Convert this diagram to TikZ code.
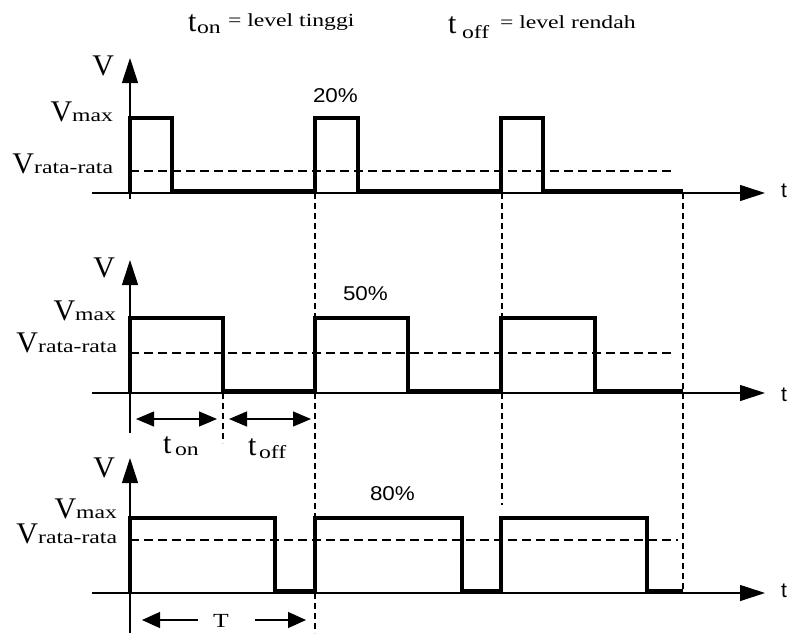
\documentclass[tikz,border=0pt]{standalone}
\usepackage{graphicx}
\usepackage{fontspec}
\setmainfont{Liberation Serif}
\newfontfamily\pctfont{Liberation Sans}
\usetikzlibrary{arrows.meta}
\newcommand{\bigf}{\fontsize{30}{30}\selectfont}
\newcommand{\smtxt}[1]{\scalebox{1.28}[1]{\fontsize{18.5}{18.5}\selectfont #1}}
\tikzset{
  lbl/.style={inner sep=0pt, outer sep=0pt},
  pulse/.style={line width=4.5pt, line join=miter},
  axisline/.style={line width=1.1pt, -{Triangle[length=25pt,width=16pt]}},
  avgline/.style={line width=1.1pt, dash pattern=on 9pt off 5pt},
  guide/.style={line width=1.1pt, dash pattern=on 6pt off 4pt},
  spanarrow/.style={line width=1.1pt, {Triangle[length=18pt,width=15pt]}-{Triangle[length=18pt,width=15pt]}},
  onearrow/.style={line width=1.1pt, -{Triangle[length=18pt,width=16pt]}},
  pct/.style={lbl, anchor=base west, font=\pctfont\fontsize{20}{20}\selectfont, xscale=1.12},
}
\begin{document}
\begin{tikzpicture}[x=1pt,y=-1pt]
\useasboundingbox (0,0) rectangle (791,637);
% panels: base, vmax, vavg, off1, off2, off3, vtop, vbot, avgend, id
\foreach \b/\m/\a/\oa/\ob/\oc/\vt/\vb/\ae/\n in {
  193/118/171/172/358/543/58/199/673/1,
  393/318/353/223/408/595/260/433/673/2,
  593/518/540/275/462/647/458/633/678/3}{
  \pgfmathsetmacro{\lo}{\b-2}
  \coordinate (ybot\n) at (130,\vb);
  \coordinate (ytop\n) at (130,\vt);
  \coordinate (xl\n) at (92,\b);
  \coordinate (xr\n) at (765,\b);
  \coordinate (al\n) at (130,\a);
  \coordinate (ar\n) at (\ae,\a);
  \draw[axisline] (ybot\n) -- (ytop\n);
  \draw[axisline] (xl\n) -- (xr\n);
  \draw[avgline] (al\n) -- (ar\n);
  \draw[pulse] (130,\b) -- (130,\m) -- (\oa,\m) -- (\oa,\lo) -- (315,\lo)
     -- (315,\m) -- (\ob,\m) -- (\ob,\lo) -- (501,\lo)
     -- (501,\m) -- (\oc,\m) -- (\oc,\lo) -- (683,\lo);
}
% vertical guides
\coordinate (g1a) at (315,193); \coordinate (g1b) at (315,633);
\coordinate (g2a) at (502,193); \coordinate (g2b) at (502,505);
\coordinate (g3a) at (683,193); \coordinate (g3b) at (683,593);
\coordinate (g4a) at (223,393); \coordinate (g4b) at (223,443);
\draw[guide] (g1a) -- (g1b);
\draw[guide] (g2a) -- (g2b);
\draw[guide] (g3a) -- (g3b);
\draw[guide] (g4a) -- (g4b);
% span arrows
\coordinate (on1) at (136,419); \coordinate (on2) at (217,419);
\coordinate (of1) at (229,419); \coordinate (of2) at (311,419);
\draw[spanarrow] (on1) -- (on2);
\draw[spanarrow] (of1) -- (of2);
\node[lbl, anchor=base, font=\fontsize{20}{20}\selectfont, xscale=1.28] (T) at (221,627) {T};
\coordinate (Tl) at (198,620); \coordinate (Tlt) at (142,620);
\coordinate (Tr) at (255,620); \coordinate (Trt) at (306,620);
\draw[onearrow] (Tl) -- (Tlt);
\draw[onearrow] (Tr) -- (Trt);
% axis labels
\node[lbl, anchor=base east, font=\bigf] (V1) at (114,75) {V};
\node[lbl, anchor=base east, font=\bigf] (V2) at (115,277) {V};
\node[lbl, anchor=base east, font=\bigf] (V3) at (115,477) {V};
\node[lbl, anchor=base east] (max1) at (113,121) {\bigf V\smtxt{max}};
\node[lbl, anchor=base east] (avg1) at (113,173) {\bigf V\smtxt{rata-rata}};
\node[lbl, anchor=base east] (max2) at (116,320) {\bigf V\smtxt{max}};
\node[lbl, anchor=base east] (avg2) at (117,352) {\bigf V\smtxt{rata-rata}};
\node[lbl, anchor=base east] (max3) at (117,518) {\bigf V\smtxt{max}};
\node[lbl, anchor=base east] (avg3) at (117,543) {\bigf V\smtxt{rata-rata}};
\foreach \y/\n in {197/1, 401/2, 597/3}
  \node[lbl, anchor=base west, font=\pctfont\fontsize{21}{21}\selectfont] (t\n) at (781,\y) {t};
% percentages
\node[pct] (p20) at (313,102) {20\%};
\node[pct] (p50) at (343,300) {50\%};
\node[pct] (p80) at (370,500) {80\%};
% t_on / t_off below panel 2
\node[lbl, anchor=base west, font=\bigf] (ton) at (163,453) {t};
\node[lbl, anchor=base west] (tonsub) at (175,455) {\smtxt{on}};
\node[lbl, anchor=base west, font=\bigf] (toff) at (248,455) {t};
\node[lbl, anchor=base west] (toffsub) at (259,458) {\smtxt{off}};
% titles
\node[lbl, anchor=base west, font=\bigf] (h1t) at (188,31) {t};
\node[lbl, anchor=base west] (h1s) at (197,33) {\smtxt{on}};
\node[lbl, anchor=base west] (h1r) at (228,26) {\smtxt{= level tinggi}};
\node[lbl, anchor=base west, font=\bigf] (h2t) at (448,33) {t};
\node[lbl, anchor=base west] (h2s) at (462,38) {\smtxt{off}};
\node[lbl, anchor=base west] (h2r) at (500,28) {\smtxt{= level rendah}};
\end{tikzpicture}
\end{document}
